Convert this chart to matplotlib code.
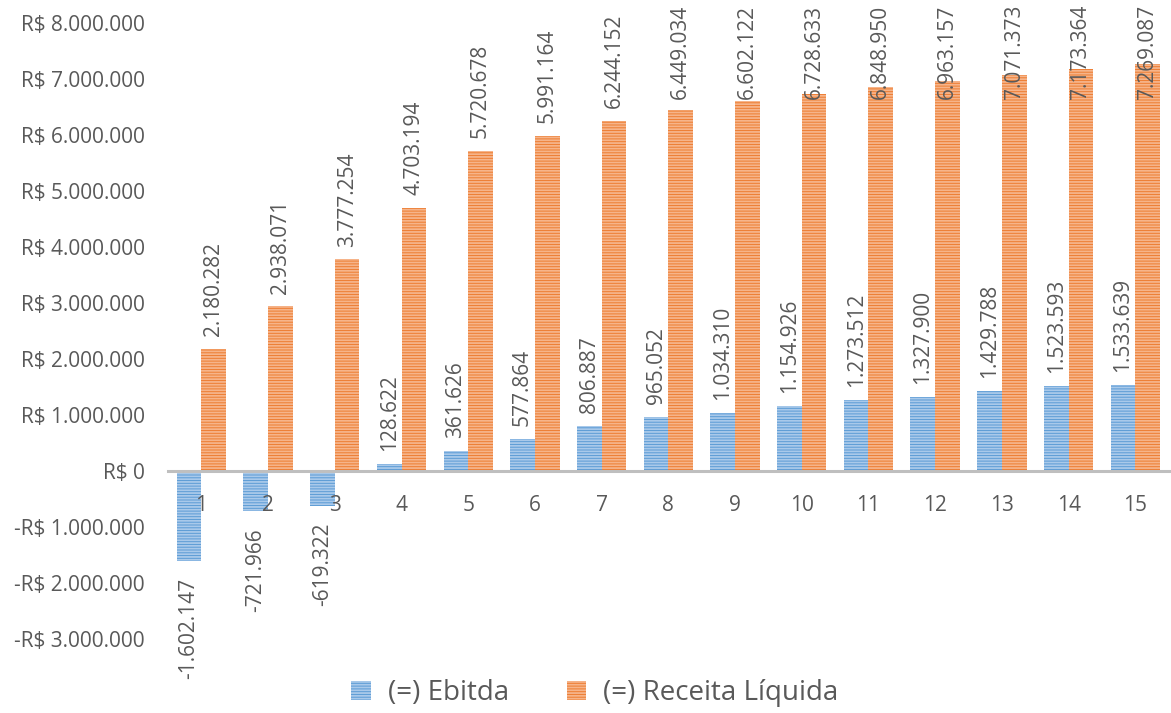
import matplotlib
matplotlib.use("Agg")
import matplotlib.pyplot as plt
import numpy as np

periods = [str(i) for i in range(1, 16)]
ebitda = [-1602147, -721966, -619322, 128622, 361626, 577864, 806887, 965052,
          1034310, 1154926, 1273512, 1327900, 1429788, 1523593, 1533639]
receita = [2180282, 2938071, 3777254, 4703194, 5720678, 5991164, 6244152, 6449034,
           6602122, 6728633, 6848950, 6963157, 7071373, 7173364, 7269087]
yticks = list(range(-3000000, 8000001, 1000000))

BLUE = "#5b9bd5"
ORANGE = "#ed7d31"
TXT = "#595959"

plt.rcParams['font.family'] = ['Open Sans', 'DejaVu Sans']
plt.rcParams['hatch.linewidth'] = 1.3

def fmt(v):
    s = f"{abs(int(v)):,}".replace(",", ".")
    return ("-" if v < 0 else "") + s

def fmt_axis(v):
    s = f"{abs(int(v)):,}".replace(",", ".")
    return ("-R$ " if v < 0 else "R$ ") + s

fig = plt.figure(figsize=(11.71, 7.13), dpi=100)
ax = fig.add_axes([0.1435, 0.1038, 0.8545, 0.8639])

x = np.arange(len(periods))
w = 0.37
b1 = ax.bar(x - w/2, ebitda, w, color=BLUE, edgecolor="#a9c9ea", linewidth=0,
            hatch="------", label="(=) Ebitda")
b2 = ax.bar(x + w/2, receita, w, color=ORANGE, edgecolor="#f6b48a", linewidth=0,
            hatch="------", label="(=) Receita Líquida")

ax.set_ylim(-3000000, 8000000)
ax.set_xlim(-0.5, len(periods) - 0.5)

ax.set_yticks(yticks)
ax.set_yticklabels([fmt_axis(v) for v in yticks], fontsize=15, color=TXT)
ax.tick_params(axis='y', length=0, pad=16.5)

ax.spines['bottom'].set_position(('data', 0))
ax.spines['bottom'].set_color('#bfbfbf')
ax.spines['bottom'].set_linewidth(2.2)
ax.spines['bottom'].set_zorder(5)
for s in ['top', 'right', 'left']:
    ax.spines[s].set_visible(False)
ax.set_xticks(x)
ax.set_xticklabels(periods, fontsize=15, color=TXT)
ax.tick_params(axis='x', length=0, pad=17)

gap_pos = 230000
gap_neg = 300000
top_limit = 8320000
text_len = 1700000
for xs, vals in [(x - w/2, ebitda), (x + w/2, receita)]:
    for xi, v in zip(xs, vals):
        if v >= 0:
            if v + gap_pos + text_len > top_limit:
                ax.text(xi, top_limit, fmt(v), rotation=90, ha='center', va='top',
                        fontsize=15, color=TXT, clip_on=False, zorder=6)
            else:
                ax.text(xi, v + gap_pos, fmt(v), rotation=90, ha='center', va='bottom',
                        fontsize=15, color=TXT, clip_on=False, zorder=6)
        else:
            ax.text(xi, v - gap_neg, fmt(v), rotation=90, ha='center', va='top',
                    fontsize=15, color=TXT, clip_on=False, zorder=6)

leg = fig.legend(handles=[b1, b2], loc='center', bbox_to_anchor=(0.508, 0.028),
                 ncol=2, frameon=False, fontsize=20, handlelength=0.7,
                 handleheight=0.7, columnspacing=2.1, handletextpad=0.6)
for t in leg.get_texts():
    t.set_color(TXT)

fig.savefig("out.png", dpi=100)
